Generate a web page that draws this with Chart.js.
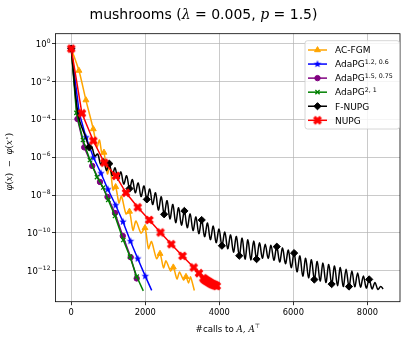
<!DOCTYPE html>
<html><head><meta charset="utf-8">
<script src="https://cdn.jsdelivr.net/npm/chart.js@4/dist/chart.umd.min.js"></script>
<style>html,body{margin:0;padding:0;background:#fff;}canvas{display:block;}</style>
</head><body>
<canvas id="c" width="407" height="340"></canvas>
<script>
// ---------- data (x = #calls, values stored as log10 of φ(x)-φ(x*)) ----------
const seriesNames = ['AC-FGM', 'AdaPG', 'AdaPG', 'AdaPG', 'F-NUPG', 'NUPG'];
const seriesSups  = ['', '1.2, 0.6', '1.5, 0.75', '2, 1', '', ''];
const xTickValues = [0, 2000, 4000, 6000, 8000];
const yTickExponents = [0, -2, -4, -6, -8, -10, -12];

const acfgmX = [0,208,397,595,695,762,830,884,978,1046,1127,1200,1289,1357,1479,1573,1668,1749,1884,1992,2087,2168,2303,2398,2492,2560,2681,2757,2857,2925,3033,3100,3168,3222,3325];
const acfgmLog = [-0.26,-1.42,-2.98,-4.51,-5.46,-5.09,-5.83,-5.75,-6.89,-6.46,-7.73,-7.57,-8.42,-8.05,-9.00,-8.87,-9.87,-9.37,-10.01,-9.74,-10.83,-10.46,-11.36,-11.10,-11.85,-11.48,-12.01,-11.82,-12.44,-12.07,-12.49,-12.32,-12.65,-12.33,-13.05];

const adapgAX = [0,216,400,600,803,990,1200,1397,1600,1795,2000,2173];
const adapgALog = [-0.26,-3.66,-4.95,-6.02,-6.85,-7.70,-8.54,-9.41,-10.44,-11.36,-12.29,-13.04];

const adapgBX = [0,168,351,568,776,980,1181,1392,1606,1768];
const adapgBLog = [-0.26,-3.98,-5.48,-6.46,-7.31,-8.10,-8.95,-10.16,-11.29,-12.41];

const adapgCX = [0,141,316,505,695,865,1000,1181,1406,1587,1768,1946];
const adapgCLog = [-0.26,-3.66,-5.09,-6.15,-7.05,-7.60,-8.26,-9.11,-10.38,-11.26,-12.31,-13.07];

const fnupgX = [0,189,400,487,560,638,716,794,872,950,1028,1106,1184,1262,1340,1418,1496,1574,1652,1730,1808,1886,1964,2042,2120,2198,2276,2354,2432,2510,2588,2666,2744,2822,2900,2978,3056,3134,3212,3290,3368,3446,3524,3602,3680,3758,3836,3914,3992,4070,4148,4226,4304,4382,4460,4538,4616,4694,4772,4850,4928,5006,5084,5162,5240,5318,5396,5474,5552,5630,5708,5786,5864,5942,6020,6098,6176,6254,6332,6410,6488,6566,6644,6722,6800,6878,6956,7034,7112,7190,7268,7346,7424,7502,7580,7658,7736,7814,7892,7970,8048,8126,8204,8282,8360,8425];
const fnupgLog = [-0.26,-3.78,-5.0,-5.48,-5.50,-5.94,-5.83,-6.38,-6.10,-6.70,-6.34,-6.97,-6.56,-7.21,-6.78,-7.42,-6.98,-7.66,-7.18,-7.88,-7.36,-8.08,-7.52,-8.23,-7.68,-8.50,-7.88,-8.79,-8.09,-9.02,-8.30,-9.26,-8.50,-9.46,-8.67,-9.59,-8.84,-9.73,-9.00,-9.88,-9.16,-10.04,-9.32,-10.20,-9.48,-10.36,-9.64,-10.52,-9.80,-10.68,-9.96,-10.84,-10.11,-11.02,-10.19,-11.21,-10.28,-11.39,-10.36,-11.43,-10.43,-11.39,-10.52,-11.34,-10.60,-11.35,-10.66,-11.45,-10.73,-11.54,-10.80,-11.63,-10.91,-11.84,-11.07,-12.06,-11.22,-12.29,-11.34,-12.38,-11.42,-12.47,-11.51,-12.55,-11.60,-12.63,-11.67,-12.71,-11.75,-12.79,-11.83,-12.84,-11.92,-12.84,-12.02,-12.85,-12.12,-12.87,-12.28,-12.92,-12.46,-12.96,-12.63,-12.99,-12.83,-12.97];

const nupgX = [0,289,595,892,1208,1479,1795,2108,2411,2703,3006,3309,3450,3568,3595,3620,3645,3670,3695,3720,3745,3770,3795,3820,3845,3870,3895,3930];
const nupgLog = [-0.26,-3.68,-5.13,-6.29,-6.99,-7.88,-8.65,-9.32,-9.98,-10.60,-11.22,-11.83,-12.13,-12.40,-12.45,-12.49,-12.52,-12.55,-12.58,-12.61,-12.64,-12.67,-12.70,-12.72,-12.74,-12.76,-12.78,-12.81];

const titleText = {pre: 'mushrooms (', v1: 'λ', mid: ' = 0.005, ', v2: 'p', post: ' = 1.5)'};
const xLabelText = {pre: '#calls to ', math: 'A, A', sup: '⊤'};

// ---------- helpers ----------
const SANS = '"DejaVu Sans", sans-serif';
const SERIF = '"DejaVu Serif", serif';
const toPts = (xs, ls) => xs.map((x, i) => ({x: x, y: Math.pow(10, ls[i])}));

function makeStar(color, R) {
  const s = Math.ceil(2 * R + 2), c = document.createElement('canvas');
  c.width = c.height = s;
  const g = c.getContext('2d');
  g.fillStyle = color; g.beginPath();
  for (let i = 0; i < 10; i++) {
    const r = i % 2 ? R * 0.42 : R, a = -Math.PI / 2 + i * Math.PI / 5;
    g.lineTo(s / 2 + r * Math.cos(a), s / 2 + r * Math.sin(a));
  }
  g.closePath(); g.fill();
  return c;
}
function makeFilledX(color, R) {
  const s = Math.ceil(2 * R + 2), c = document.createElement('canvas');
  c.width = c.height = s;
  const g = c.getContext('2d');
  g.fillStyle = color; g.translate(s / 2, s / 2); g.rotate(Math.PI / 4);
  const t = R * 0.36;
  g.fillRect(-R, -t, 2 * R, 2 * t); g.fillRect(-t, -R, 2 * t, 2 * R);
  return c;
}
const starBlue = makeStar('#0000ff', 4.0);
const xRed = makeFilledX('#ff0000', 4.6);

const colors = ['#ffa500', '#0000ff', '#800080', '#008000', '#000000', '#ff0000'];
const styles = ['triangle', starBlue, 'circle', 'crossRot', 'rectRot', xRed];
const radii = [3.4, 4, 2.7, 3, 3.6, 4];

function mkDataset(idx, xs, ls, markFn, tension) {
  const col = colors[idx];
  return {
    label: seriesNames[idx] + (seriesSups[idx] ? ' ' + seriesSups[idx] : ''),
    data: toPts(xs, ls),
    borderColor: col, backgroundColor: col,
    borderWidth: 1.5, tension: tension || 0, fill: false,
    pointStyle: styles[idx],
    pointRadius: c => markFn(c.dataIndex) ? radii[idx] : 0,
    pointHoverRadius: 0,
    pointBorderColor: col, pointBackgroundColor: col,
    pointBorderWidth: idx === 3 ? 1.3 : 1,
    order: 5 - idx
  };
}

const datasets = [
  mkDataset(0, acfgmX, acfgmLog, i => i <= 3 || ((i - 3) % 4 === 0 && i < acfgmX.length - 1), 0.25),
  mkDataset(1, adapgAX, adapgALog, i => i < adapgAX.length - 1),
  mkDataset(2, adapgBX, adapgBLog, i => true),
  mkDataset(3, adapgCX, adapgCLog, i => i < adapgCX.length - 1),
  mkDataset(4, fnupgX, fnupgLog, i => i === 0 || i === 3 || (i >= 5 && Math.floor(fnupgX[i] / 500) > Math.floor(fnupgX[i - 1] / 500)), 0.35),
  mkDataset(5, nupgX, nupgLog, i => true)
];

function drawRuns(ctx, runs, x, y, align) {
  let total = 0;
  runs.forEach(r => { ctx.font = r.font; r.w = ctx.measureText(r.t).width; total += r.w; });
  let cx = align === 'center' ? x - total / 2 : (align === 'right' ? x - total : x);
  runs.forEach(r => { ctx.font = r.font; ctx.fillText(r.t, cx, y + (r.dy || 0)); cx += r.w; });
}

const decor = {
  id: 'decor',
  afterDraw(chart) {
    const ctx = chart.ctx, a = chart.chartArea, ys = chart.scales.y;
    ctx.save();
    // frame
    ctx.strokeStyle = '#000'; ctx.lineWidth = 0.8;
    ctx.strokeRect(a.left, a.top, a.right - a.left, a.bottom - a.top);
    ctx.fillStyle = '#000'; ctx.textBaseline = 'alphabetic'; ctx.textAlign = 'left';
    // y tick labels (10 with raised exponent)
    yTickExponents.forEach(e => {
      const py = ys.getPixelForValue(Math.pow(10, e));
      drawRuns(ctx, [
        {t: '10', font: '8.5px ' + SANS},
        {t: e === 0 ? '0' : '−' + Math.abs(e), font: '6px ' + SANS, dy: -3.8}
      ], a.left - 5, py + 3, 'right');
    });
    // title
    drawRuns(ctx, [
      {t: titleText.pre, font: '14px ' + SANS},
      {t: titleText.v1, font: 'italic 14px ' + SERIF},
      {t: titleText.mid, font: '14px ' + SANS},
      {t: titleText.v2, font: 'italic 14px ' + SERIF},
      {t: titleText.post, font: '14px ' + SANS}
    ], 203.5, 18.5, 'center');
    // x label
    drawRuns(ctx, [
      {t: xLabelText.pre, font: '8.7px ' + SANS},
      {t: xLabelText.math, font: 'italic 8.7px ' + SERIF},
      {t: xLabelText.sup, font: '6px ' + SANS, dy: -3.5}
    ], (a.left + a.right) / 2, 331.5, 'center');
    // y label (rotated)
    ctx.save();
    ctx.translate(12, (a.top + a.bottom) / 2 - 6);
    ctx.rotate(-Math.PI / 2);
    drawRuns(ctx, [
      {t: 'φ', font: 'italic 8.7px ' + SERIF},
      {t: '(', font: '8.7px ' + SERIF},
      {t: 'x', font: 'italic 8.7px ' + SERIF},
      {t: ')  −  ', font: '8.7px ' + SERIF},
      {t: 'φ', font: 'italic 8.7px ' + SERIF},
      {t: '(', font: '8.7px ' + SERIF},
      {t: 'x', font: 'italic 8.7px ' + SERIF},
      {t: '⋆', font: '6px ' + SERIF, dy: -3.5},
      {t: ')', font: '8.7px ' + SERIF}
    ], 0, 0, 'center');
    ctx.restore();
    // legend
    const lx = 305, ly = 40.7, lw = 94.5, lh = 88.3, rr = 2.5;
    ctx.beginPath();
    ctx.moveTo(lx + rr, ly); ctx.lineTo(lx + lw - rr, ly); ctx.quadraticCurveTo(lx + lw, ly, lx + lw, ly + rr);
    ctx.lineTo(lx + lw, ly + lh - rr); ctx.quadraticCurveTo(lx + lw, ly + lh, lx + lw - rr, ly + lh);
    ctx.lineTo(lx + rr, ly + lh); ctx.quadraticCurveTo(lx, ly + lh, lx, ly + lh - rr);
    ctx.lineTo(lx, ly + rr); ctx.quadraticCurveTo(lx, ly, lx + rr, ly);
    ctx.closePath();
    ctx.fillStyle = 'rgba(255,255,255,0.8)'; ctx.fill();
    ctx.strokeStyle = '#cccccc'; ctx.lineWidth = 0.8; ctx.stroke();
    for (let i = 0; i < seriesNames.length; i++) {
      const y = 50 + i * 14.06;
      ctx.strokeStyle = colors[i]; ctx.lineWidth = 1.5;
      ctx.beginPath(); ctx.moveTo(308, y); ctx.lineTo(327, y); ctx.stroke();
      ctx.fillStyle = colors[i]; ctx.strokeStyle = colors[i];
      ctx.lineWidth = i === 3 ? 1.3 : 1;
      Chart.helpers.drawPoint(ctx, {pointStyle: styles[i], radius: radii[i], rotation: 0, borderWidth: ctx.lineWidth}, 317.5, y);
      ctx.fillStyle = '#000';
      const runs = [{t: seriesNames[i], font: '9px ' + SANS}];
      if (seriesSups[i]) runs.push({t: seriesSups[i], font: '6.3px ' + SANS, dy: -3.8});
      drawRuns(ctx, runs, 335, y + 3.3, 'left');
    }
    ctx.restore();
  }
};

new Chart(document.getElementById('c'), {
  type: 'line',
  data: {datasets: datasets},
  plugins: [decor],
  options: {
    responsive: false, animation: false, devicePixelRatio: 1,
    layout: {padding: {top: 33.7, right: 7, left: 0, bottom: 0}},
    plugins: {legend: {display: false}, title: {display: false}, tooltip: {enabled: false}},
    scales: {
      x: {
        type: 'linear', min: -425, max: 8880,
        afterBuildTicks: s => { s.ticks = xTickValues.map(v => ({value: v})); },
        afterFit: s => { s.height = 38.3; },
        ticks: {font: {family: SANS, size: 8.3}, color: '#000', padding: 3, maxRotation: 0, autoSkip: false, callback: v => String(v)},
        grid: {color: 'rgba(176,176,176,0.85)', lineWidth: 0.8, tickColor: '#000', tickLength: 3.5, tickWidth: 0.8},
        border: {display: false}
      },
      y: {
        type: 'logarithmic', min: Math.pow(10, -13.64), max: Math.pow(10, 0.53),
        afterBuildTicks: s => { s.ticks = yTickExponents.map(e => ({value: Math.pow(10, e)})); },
        afterFit: s => { s.width = 55.5; },
        ticks: {display: true, color: 'rgba(0,0,0,0)', font: {family: SANS, size: 8}, padding: 2, autoSkip: false,
          callback: v => ''},
        grid: {color: 'rgba(176,176,176,0.85)', lineWidth: 0.8, tickColor: '#000', tickLength: 3.5, tickWidth: 0.8},
        border: {display: false}
      }
    }
  }
});
</script>
</body></html>
